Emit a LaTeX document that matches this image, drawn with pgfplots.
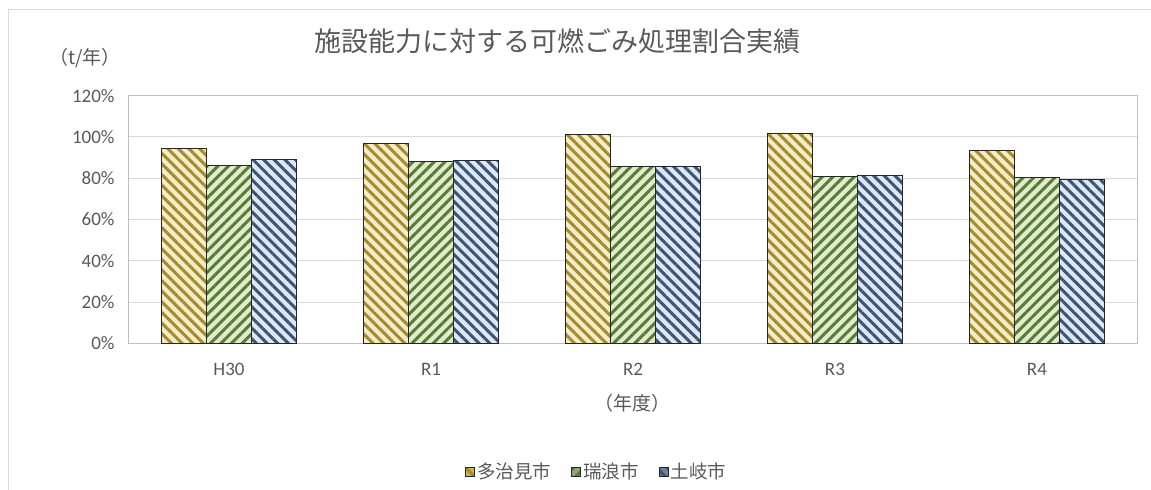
\documentclass[border=0pt]{standalone}
\usepackage{pgfplots}
\pgfplotsset{compat=1.18}
\usepackage{fontspec}
\setmainfont{Noto Sans CJK JP}
\newfontfamily\calibri{Carlito}
\usetikzlibrary{patterns.meta}
\definecolor{txt}{HTML}{595959}
\definecolor{gridc}{HTML}{D9D9D9}
\definecolor{axisc}{HTML}{BFBFBF}
\definecolor{ybg}{HTML}{F5EDC8}
\definecolor{yst}{HTML}{A38B2E}
\definecolor{gbg}{HTML}{E0EDCC}
\definecolor{gst}{HTML}{5B7A3A}
\definecolor{bbg}{HTML}{DDE7F5}
\definecolor{bst}{HTML}{3D5575}
\definecolor{ylg}{HTML}{C9B457}
\definecolor{glg}{HTML}{8FA77A}
\definecolor{blg}{HTML}{6E819C}
\begin{document}
\begin{tikzpicture}[x=1bp,y=1bp]
\path[use as bounding box] (0,0) rectangle (1151,490);
\draw[color=gridc, line width=1bp] (8,-10) -- (8,480) -- (1170,480);
\begin{axis}[
  at={(128bp,146.7bp)}, anchor=south west,
  scale only axis, width=1010bp, height=247.6bp,
  ybar=0pt, bar width=45bp,
  xmin=-0.5, xmax=4.5,
  xtick=data, xticklabels={H30,R1,R2,R3,R4},
  ymin=0, ymax=120, ytick={0,20,40,60,80,100,120},
  /pgf/number format/assume math mode=true,
  yticklabel={\pgfmathprintnumber{\tick}\%},
  major tick length=0pt,
  ymajorgrids, grid style={color=gridc, line width=1bp},
  axis line style={draw=axisc, line width=1bp},
  ticklabel style={font=\calibri\fontsize{19bp}{21bp}\selectfont, text=txt},
  yticklabel style={xshift=-10bp},
  xticklabel style={yshift=-16bp},
  title={施設能力に対する可燃ごみ処理割合実績},
  title style={at={(0.425,1.197)}, anchor=center, font=\fontsize{27bp}{30bp}\selectfont, text=txt},
  xlabel={（年度）},
  xlabel style={at={(0.5,-0.241)}, anchor=center, font=\fontsize{19bp}{22bp}\selectfont, text=txt},
  ylabel={（t/年）},
  ylabel style={rotate=-90, at={(-0.0426,1.152)}, anchor=center, font=\fontsize{19bp}{22bp}\selectfont, text=txt},
  legend columns=3,
  legend style={at={(0.464,-0.519)}, anchor=center, draw=none, fill=none,
    font=\fontsize{18.5bp}{21bp}\selectfont, text=txt,
    /tikz/every even column/.append style={column sep=18bp}},
]
\addplot[fill=ybg, draw=black!85, line width=1bp,
  postaction={pattern={Lines[angle=-45, distance=7.5bp, line width=3bp]}, pattern color=yst},
  legend image code/.code={\draw[fill=ylg, draw=black!85, line width=1bp] (0bp,-4.5bp) rectangle (9bp,4.5bp);}]
  coordinates {(0,94.2) (1,96.9) (2,101.3) (3,101.6) (4,93.5)};
\addplot[fill=gbg, draw=black!85, line width=1bp,
  postaction={pattern={Lines[angle=45, distance=7.5bp, line width=3bp]}, pattern color=gst},
  legend image code/.code={\draw[fill=glg, draw=black!85, line width=1bp] (0bp,-4.5bp) rectangle (9bp,4.5bp);}]
  coordinates {(0,86.4) (1,88.0) (2,85.6) (3,80.9) (4,80.4)};
\addplot[fill=bbg, draw=black!85, line width=1bp,
  postaction={pattern={Lines[angle=-45, distance=7.5bp, line width=3bp]}, pattern color=bst},
  legend image code/.code={\draw[fill=blg, draw=black!85, line width=1bp] (0bp,-4.5bp) rectangle (9bp,4.5bp);}]
  coordinates {(0,89.2) (1,88.5) (2,85.6) (3,81.4) (4,79.6)};
\legend{多治見市,瑞浪市,土岐市}
\end{axis}
\end{tikzpicture}
\end{document}
